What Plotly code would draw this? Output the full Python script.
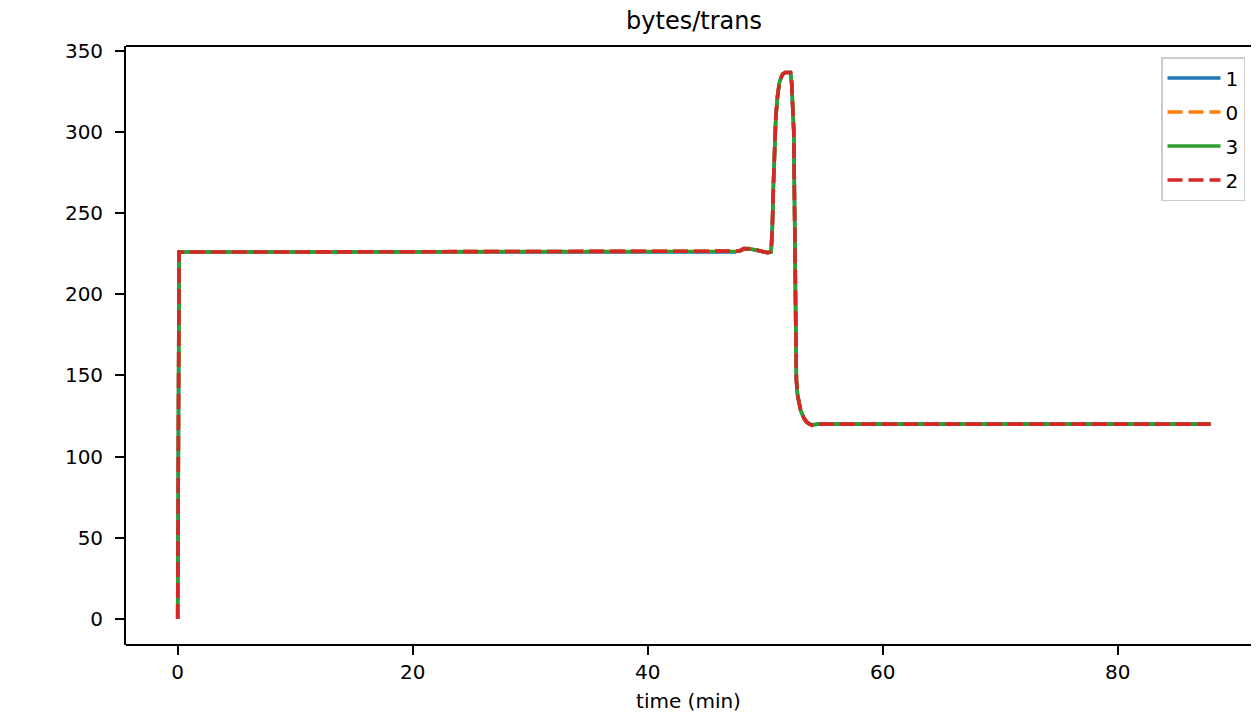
import plotly.graph_objects as go

# time (min)
time_min = [0.0, 0.12, 10.0, 20.0, 30.0, 40.0, 47.4, 47.8, 48.2, 48.6, 49.0, 49.4, 49.8,
            50.2, 50.5, 50.6, 50.7, 50.8, 50.9, 51.05, 51.2, 51.35, 51.5, 51.7, 52.15,
            52.25, 52.35, 52.43, 52.5, 52.58, 52.65, 52.75, 52.85, 53.0, 53.1, 53.3,
            53.5, 53.75, 54.0, 54.5, 60.0, 70.0, 80.0, 87.9]

# bytes/trans per series
s1 = [0, 226, 226, 226, 226, 226, 226, 226.8, 228.2, 228.0, 227.4, 227.0, 226.6,
      225.6, 226, 240, 268, 292, 309, 322, 330, 333.5, 335.5, 336.5, 336.5,
      330, 315, 300, 250, 190, 147, 138, 133, 129, 127, 123.5,
      121.5, 120, 119.6, 120, 120, 120, 120, 120]
s0 = [0, 226, 226, 226, 226, 226, 226, 226.5, 228.0, 228.2, 227.6, 227.0, 226.5,
      225.5, 226, 240, 268, 292, 309, 322, 330, 333.5, 335.5, 336.5, 336.5,
      330, 315, 300, 250, 190, 147, 138, 133, 129, 127, 123.5,
      121.5, 120, 119.0, 120, 120, 120, 120, 120]
s3 = [0, 226, 226, 226, 226, 226, 226, 226.4, 227.8, 228.0, 227.5, 227.0, 226.5,
      225.6, 226, 240, 268, 292, 309, 322, 330, 333.5, 335.5, 336.5, 336.5,
      330, 315, 300, 250, 190, 147, 138, 133, 129, 127, 123.5,
      121.5, 120, 119.5, 120, 120, 120, 120, 120]
s2 = [0, 226, 226, 226, 226, 226, 226, 226.5, 228.0, 228.0, 227.5, 227.0, 226.5,
      225.5, 226, 240, 268, 292, 309, 322, 330, 333.5, 335.5, 336.5, 336.5,
      330, 315, 300, 250, 190, 147, 138, 133, 129, 127, 123.5,
      121.5, 120, 119.5, 120, 120, 120, 120, 120]

series_names = ["1", "0", "3", "2"]
series_values = [s1, s0, s3, s2]
series_colors = ["#1f77b4", "#ff7f0e", "#2ca02c", "#d62728"]
series_dash = ["solid", "15px,6px", "solid", "15px,6px"]

x_ticks = [0, 20, 40, 60, 80]
y_ticks = [0, 50, 100, 150, 200, 250, 300, 350]

fig = go.Figure()
for name, vals, col, dash in zip(series_names, series_values, series_colors, series_dash):
    fig.add_trace(go.Scatter(
        x=time_min, y=vals, name=name, mode="lines", legendgroup=name,
        line=dict(color=col, width=3.6, dash=dash),
    ))

# plot area spans screen x 126..1251 (page body offset 8px)
font_family = "DejaVu Sans"
fig.update_layout(
    width=1243, height=705,
    margin=dict(l=118, r=0, t=38, b=68, autoexpand=False),
    paper_bgcolor="white", plot_bgcolor="white",
    font=dict(family=font_family, size=20, color="black"),
    title=dict(text="bytes/trans", x=0.5049, xref="paper", xanchor="center",
               y=1 - 13 / 705, yref="container", yanchor="middle",
               font=dict(size=24, color="black", family=font_family)),
    showlegend=True,
    legend=dict(
        x=0.92, xanchor="left", y=0.9816, yanchor="top",
        bgcolor="rgba(255,255,255,0.8)", bordercolor="#cccccc", borderwidth=1.5,
        font=dict(size=20, family=font_family), tracegroupgap=5,
        traceorder="grouped", itemwidth=53,
    ),
    xaxis=dict(
        range=[-4.4, 91.34], tickvals=x_ticks, ticktext=[str(v) for v in x_ticks],
        showgrid=False, zeroline=False, showline=False,
        ticks="outside", ticklen=9, tickwidth=1.6, tickcolor="black",
        title=dict(text="time (min)", standoff=12, font=dict(size=20)),
        tickfont=dict(size=20),
    ),
    yaxis=dict(
        range=[-16.0, 352.8], tickvals=y_ticks, ticktext=[str(v) for v in y_ticks],
        showgrid=False, zeroline=False, showline=True, linecolor="black", linewidth=1.8,
        mirror=False, ticks="outside", ticklen=9, tickwidth=1.6, tickcolor="black",
        tickfont=dict(size=20), ticklabelstandoff=8,
    ),
    shapes=[
        dict(type="line", xref="paper", yref="paper", x0=0, x1=1.02, y0=0, y1=0,
             line=dict(color="black", width=1.8), layer="above"),
        dict(type="line", xref="paper", yref="paper", x0=0, x1=1.02, y0=1, y1=1,
             line=dict(color="black", width=1.8), layer="above"),
    ],
)

fig.write_html("out.html")
